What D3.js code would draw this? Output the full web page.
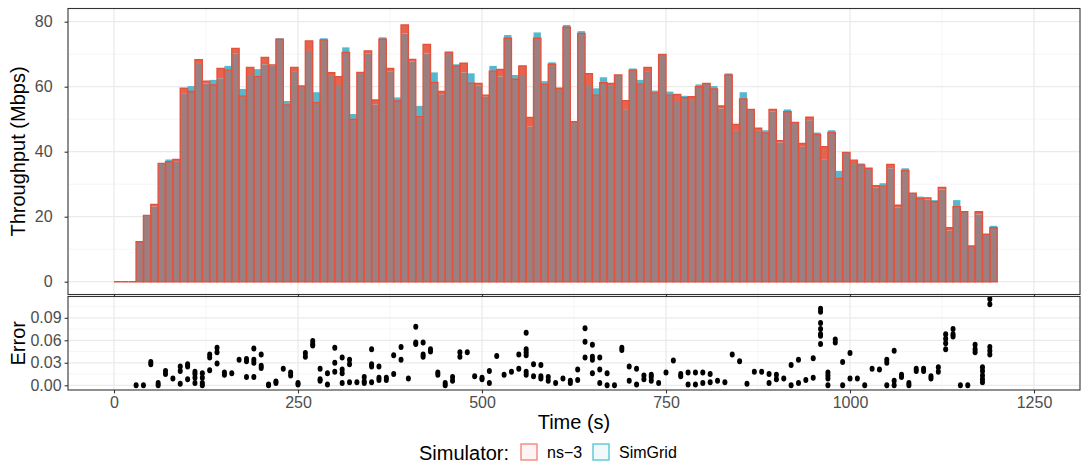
<!DOCTYPE html>
<html>
<head>
<meta charset="utf-8">
<script src="https://cdn.jsdelivr.net/npm/d3@7"></script>
<style>
  body { margin: 0; background: #fff; }
  svg { display: block; font-family: "Liberation Sans", Arial, sans-serif; }
</style>
</head>
<body>
<svg id="chart" width="1083" height="464"></svg>
<script>
// time bins (start of each 10 s bin)
const binStart = [
  0, 10, 20, 30, 40, 50, 60, 70, 80, 90, 100, 110, 120, 130, 140, 150, 160, 170, 180, 190,
  200, 210, 220, 230, 240, 250, 260, 270, 280, 290, 300, 310, 320, 330, 340, 350, 360, 370, 380, 390,
  400, 410, 420, 430, 440, 450, 460, 470, 480, 490, 500, 510, 520, 530, 540, 550, 560, 570, 580, 590,
  600, 610, 620, 630, 640, 650, 660, 670, 680, 690, 700, 710, 720, 730, 740, 750, 760, 770, 780, 790,
  800, 810, 820, 830, 840, 850, 860, 870, 880, 890, 900, 910, 920, 930, 940, 950, 960, 970, 980, 990,
  1000, 1010, 1020, 1030, 1040, 1050, 1060, 1070, 1080, 1090, 1100, 1110, 1120, 1130, 1140, 1150, 1160, 1170, 1180, 1190
];
const binWidth = 10;

// throughput per bin (Mbps)
const ns3 = [
  0, 0, 0, 12.3, 20.4, 23.8, 36.4, 36.9, 37.6, 59.5, 58.5, 68.3, 61.7, 60.5, 65.6, 65.1, 71.8, 57.1, 65.9, 63.1,
  69.0, 66.7, 74.6, 54.4, 65.9, 60.2, 74.1, 55.1, 74.4, 64.3, 63.1, 70.5, 49.9, 64.4, 71.0, 55.9, 74.6, 65.6, 55.6, 79.0,
  68.4, 50.8, 73.0, 61.3, 58.5, 70.6, 66.4, 67.2, 61.1, 61.0, 57.4, 64.8, 65.3, 74.9, 62.3, 66.4, 50.5, 74.9, 60.7, 66.9,
  59.5, 78.3, 49.2, 76.4, 64.0, 57.4, 61.2, 61.0, 63.6, 55.7, 65.1, 60.8, 65.9, 58.1, 69.9, 57.4, 57.6, 56.6, 56.9, 60.0,
  61.0, 59.3, 54.1, 63.6, 48.4, 56.2, 53.0, 47.2, 45.8, 53.0, 43.4, 52.3, 49.0, 42.5, 50.6, 45.3, 41.5, 45.9, 31.8, 39.8,
  37.4, 35.9, 34.9, 29.5, 29.4, 36.1, 23.5, 34.2, 27.2, 25.6, 25.8, 24.6, 29.0, 16.6, 23.1, 21.5, 11.0, 21.5, 14.6, 16.6
];
const simgrid = [
  0, 0, 0, 12.3, 20.4, 23.1, 36.4, 37.6, 37.1, 57.8, 60.2, 67.0, 61.0, 62.1, 62.6, 66.4, 70.3, 59.3, 63.6, 65.4,
  66.9, 66.5, 74.9, 55.6, 64.8, 60.2, 71.0, 58.3, 74.9, 63.3, 60.2, 72.1, 51.6, 64.4, 70.3, 54.6, 75.2, 64.6, 56.7, 76.4,
  67.7, 54.1, 70.2, 64.4, 57.7, 70.6, 66.9, 64.4, 64.1, 60.3, 56.9, 66.4, 63.1, 75.9, 63.6, 63.6, 47.7, 76.7, 61.7, 67.5,
  59.5, 79.0, 49.4, 77.1, 60.2, 59.5, 62.9, 60.5, 63.6, 53.1, 65.6, 62.1, 64.8, 58.8, 69.9, 58.5, 55.6, 57.2, 55.9, 60.7,
  61.0, 60.2, 53.3, 64.1, 46.4, 58.3, 53.0, 46.4, 46.6, 52.3, 42.8, 53.0, 49.0, 41.5, 49.7, 45.9, 37.7, 46.6, 34.1, 39.8,
  36.2, 36.4, 34.9, 28.9, 30.3, 34.9, 22.9, 34.9, 27.2, 26.2, 25.3, 25.1, 28.4, 15.7, 25.1, 21.5, 11.0, 20.7, 14.6, 17.2
];

// relative error points: time and the values observed at that time
const errorTime = [
  30, 40, 50, 60, 70, 80, 90, 100, 110, 120, 130, 140, 150, 160, 170, 180, 190, 200, 210, 220,
  230, 240, 250, 260, 270, 280, 290, 300, 310, 320, 330, 340, 350, 360, 370, 380, 390, 400, 410, 420,
  430, 440, 450, 460, 470, 480, 490, 500, 510, 520, 530, 540, 550, 560, 570, 580, 590, 600, 610, 620,
  630, 640, 650, 660, 670, 680, 690, 700, 710, 720, 730, 740, 750, 760, 770, 780, 790, 800, 810, 820,
  830, 840, 850, 860, 870, 880, 890, 900, 910, 920, 930, 940, 950, 960, 970, 980, 990, 1000, 1010, 1020,
  1030, 1040, 1050, 1060, 1070, 1080, 1090, 1100, 1110, 1120, 1130, 1140, 1150, 1160, 1170, 1180, 1190
];
const errorValues = [
  [0.0], [0.0], [0.028, 0.031], [0.0, 0.003], [0.015, 0.019], [0.009], [0.019, 0.025, 0.002],
  [0.025, 0.028, 0.008], [0.018, 0.015, 0.010, 0.003], [0.016, 0.010, 0.003, 0.0], [0.041, 0.037, 0.020],
  [0.050, 0.044, 0.029], [0.017, 0.014], [0.016], [0.034], [0.035, 0.032, 0.011], [0.049, 0.034, 0.030, 0.011],
  [0.041, 0.026, 0.023], [0.001, 0.0], [0.005, 0.003],
  [0.022], [0.017, 0.013], [0.001, 0.003], [0.043, 0.038], [0.059, 0.055, 0.053], [0.022, 0.008, 0.006],
  [0.016, 0.001], [0.050, 0.030, 0.018], [0.037, 0.021, 0.016, 0.003], [0.034, 0.028, 0.004], [0.004],
  [0.011, 0.005, 0.003], [0.048, 0.028, 0.025, 0.004], [0.025, 0.010, 0.007], [0.010, 0.007], [0.040, 0.015],
  [0.051, 0.034], [0.009], [0.078, 0.057, 0.055], [0.057, 0.041, 0.038],
  [0.048, 0.045], [0.017, 0.014], [0.003, 0.0], [0.011, 0.006], [0.044, 0.038], [0.044], [0.012],
  [0.010, 0.008], [0.019, 0.003], [0.039], [0.014], [0.018], [0.041, 0.022],
  [0.070, 0.048, 0.044, 0.040, 0.018, 0.014], [0.028, 0.012], [0.027, 0.012, 0.009], [0.011, 0.006],
  [0.003], [0.009], [0.006, 0.003],
  [0.021, 0.007], [0.076, 0.058, 0.037], [0.054, 0.038, 0.034, 0.016], [0.037, 0.021, 0.003], [0.016, 0.0],
  [0.0], [0.050, 0.047], [0.025, 0.006], [0.022, 0.001], [0.013, 0.008], [0.014, 0.011, 0.006], [0.003],
  [0.017], [0.033], [0.015, 0.012], [0.017, 0.001], [0.017, 0.001], [0.017, 0.003], [0.015, 0.004], [0.006],
  [0.004], [0.041], [0.032], [0.002], [0.018], [0.018], [0.015, 0.003], [0.014, 0.008], [0.009], [0.027, 0.0],
  [0.034, 0.003], [0.007], [0.036, 0.010], [0.102, 0.098, 0.083, 0.075, 0.068, 0.066, 0.055],
  [0.017, 0.013, 0.009, 0.0], [0.061, 0.057], [0.031, 0.0], [0.043, 0.009], [0.009], [0.0],
  [0.022], [0.021], [0.034, 0.030, 0.0], [0.046, 0.006, 0.0], [0.014, 0.011], [0.003, 0.0], [0.022, 0.019],
  [0.022, 0.019], [0.012, 0.009], [0.024, 0.018], [0.068, 0.062, 0.056, 0.048], [0.075, 0.068, 0.065],
  [0.0], [0.0], [0.054, 0.048, 0.044], [0.024, 0.019, 0.013, 0.008, 0.004], [0.115, 0.108, 0.051, 0.046, 0.041]
];

// axis ticks
const timeTicks = [0, 250, 500, 750, 1000, 1250];
const timeMinor = [125, 375, 625, 875, 1125];
const throughputTicks = [0, 20, 40, 60, 80];
const throughputMinor = [10, 30, 50, 70];
const errorTicks = [0, 0.03, 0.06, 0.09];
const errorMinor = [0.015, 0.045, 0.075, 0.105];
const errorTickLabels = ["0.00", "0.03", "0.06", "0.09"];

const legendNames = ["ns\u22123", "SimGrid"];
const legendColors = ["#f07466", "#3dbfd0"];

const svg = d3.select("#chart");

// panels
const left = 68, right = 1080;
const top1 = 8.5, bot1 = 294.5;
const top2 = 296.5, bot2 = 390;

const x = d3.scaleLinear().domain([-62.5, 1312.5]).range([left, right]);
const yT = d3.scaleLinear().domain([-3.94, 84.06]).range([bot1, top1]);
const yE = d3.scaleLinear().domain([-0.0063, 0.1184]).range([bot2, top2]);

function grid(g, yScale, yMajor, yMinor, y0, y1) {
  g.selectAll(".vmin").data(timeMinor).enter().append("line")
    .attr("x1", d => x(d)).attr("x2", d => x(d)).attr("y1", y0).attr("y2", y1)
    .attr("stroke", "#f2f2f2").attr("stroke-width", 0.7);
  g.selectAll(".hmin").data(yMinor).enter().append("line")
    .attr("x1", left).attr("x2", right).attr("y1", d => yScale(d)).attr("y2", d => yScale(d))
    .attr("stroke", "#f2f2f2").attr("stroke-width", 0.7);
  g.selectAll(".vmaj").data(timeTicks).enter().append("line")
    .attr("x1", d => x(d)).attr("x2", d => x(d)).attr("y1", y0).attr("y2", y1)
    .attr("stroke", "#ebebeb").attr("stroke-width", 1.3);
  g.selectAll(".hmaj").data(yMajor).enter().append("line")
    .attr("x1", left).attr("x2", right).attr("y1", d => yScale(d)).attr("y2", d => yScale(d))
    .attr("stroke", "#ebebeb").attr("stroke-width", 1.3);
}

grid(svg.append("g"), yT, throughputTicks, throughputMinor, top1, bot1);
grid(svg.append("g"), yE, errorTicks, errorMinor, top2, bot2);

// bars: cap of the higher series, grey overlap body, ns-3 outline
const bins = binStart.map((t, i) => ({ t: t, ns: ns3[i], sg: simgrid[i] }));
const bars = svg.append("g");

bars.selectAll(".cap").data(bins).enter().append("rect")
  .attr("x", d => x(d.t))
  .attr("width", d => x(d.t + binWidth) - x(d.t))
  .attr("y", d => yT(Math.max(d.ns, d.sg)))
  .attr("height", d => yT(Math.min(d.ns, d.sg)) - yT(Math.max(d.ns, d.sg)))
  .attr("fill", d => d.sg > d.ns ? "#56b8cf" : "#e8634d");

bars.selectAll(".body").data(bins).enter().append("rect")
  .attr("x", d => x(d.t))
  .attr("width", d => x(d.t + binWidth) - x(d.t))
  .attr("y", d => yT(Math.min(d.ns, d.sg)))
  .attr("height", d => yT(0) - yT(Math.min(d.ns, d.sg)))
  .attr("fill", "#9c7f80");

bars.selectAll(".outline").data(bins).enter().append("path")
  .attr("d", d => {
    let x0 = x(d.t), x1 = x(d.t + binWidth);
    return `M${x0},${yT(0)}V${yT(d.ns)}H${x1}V${yT(0)}Z`;
  })
  .attr("fill", "none")
  .attr("stroke", "#e2533d")
  .attr("stroke-width", 1.4)
  .attr("stroke-linejoin", "miter");

// error points (each point is a small stack of runs, so slightly tall)
const points = [];
errorTime.forEach((t, i) => errorValues[i].forEach(v => points.push({ t: t, e: v })));

svg.append("g").selectAll("ellipse").data(points).enter().append("ellipse")
  .attr("cx", d => x(d.t))
  .attr("cy", d => yE(d.e))
  .attr("rx", 2.5)
  .attr("ry", 3)
  .attr("fill", "#000");

// panel borders
[[top1, bot1], [top2, bot2]].forEach(p => {
  svg.append("rect")
    .attr("x", left).attr("y", p[0])
    .attr("width", right - left).attr("height", p[1] - p[0])
    .attr("fill", "none").attr("stroke", "#333").attr("stroke-width", 1.1);
});

// axes
function styleAxis(g) {
  g.select(".domain").remove();
  g.selectAll(".tick line").attr("stroke", "#333").attr("stroke-width", 1.1);
  g.selectAll(".tick text").attr("fill", "#4d4d4d").style("font-size", "16px")
    .style("font-family", "'Liberation Sans', Arial, sans-serif");
}

svg.append("g").attr("transform", `translate(${left},0)`)
  .call(d3.axisLeft(yT).tickValues(throughputTicks).tickSize(3.4).tickPadding(12))
  .call(styleAxis);

svg.append("g").attr("transform", `translate(${left},0)`)
  .call(d3.axisLeft(yE).tickValues(errorTicks).tickSize(3.4).tickPadding(3)
    .tickFormat((d, i) => errorTickLabels[i]))
  .call(styleAxis);

svg.append("g").attr("transform", `translate(0,${bot1})`)
  .call(d3.axisBottom(x).tickValues(timeTicks).tickSize(2).tickFormat(""))
  .call(styleAxis);

svg.append("g").attr("transform", `translate(0,${bot2})`)
  .call(d3.axisBottom(x).tickValues(timeTicks).tickSize(3.4).tickPadding(3).tickFormat(d3.format("d")))
  .call(styleAxis);

// axis titles
svg.append("text")
  .attr("transform", `translate(25,${(top1 + bot1) / 2}) rotate(-90)`)
  .attr("text-anchor", "middle")
  .style("font-size", "20px")
  .text("Throughput (Mbps)");

svg.append("text")
  .attr("transform", `translate(25,${(top2 + bot2) / 2}) rotate(-90)`)
  .attr("text-anchor", "middle")
  .style("font-size", "20px")
  .text("Error");

svg.append("text")
  .attr("x", (left + right) / 2)
  .attr("y", 429)
  .attr("text-anchor", "middle")
  .style("font-size", "20px")
  .text("Time (s)");

// legend
const legend = svg.append("g");
legend.append("text")
  .attr("x", 419).attr("y", 460)
  .style("font-size", "20px")
  .text("Simulator:");

const keyX = [521, 593];
legendNames.forEach((name, i) => {
  legend.append("rect")
    .attr("x", keyX[i]).attr("y", 444)
    .attr("width", 16).attr("height", 16)
    .attr("fill", legendColors[i]).attr("fill-opacity", 0.08)
    .attr("stroke", legendColors[i]).attr("stroke-width", 1.2);
  legend.append("text")
    .attr("x", keyX[i] + 26).attr("y", 458)
    .style("font-size", "16px")
    .text(name);
});
</script>
</body>
</html>
